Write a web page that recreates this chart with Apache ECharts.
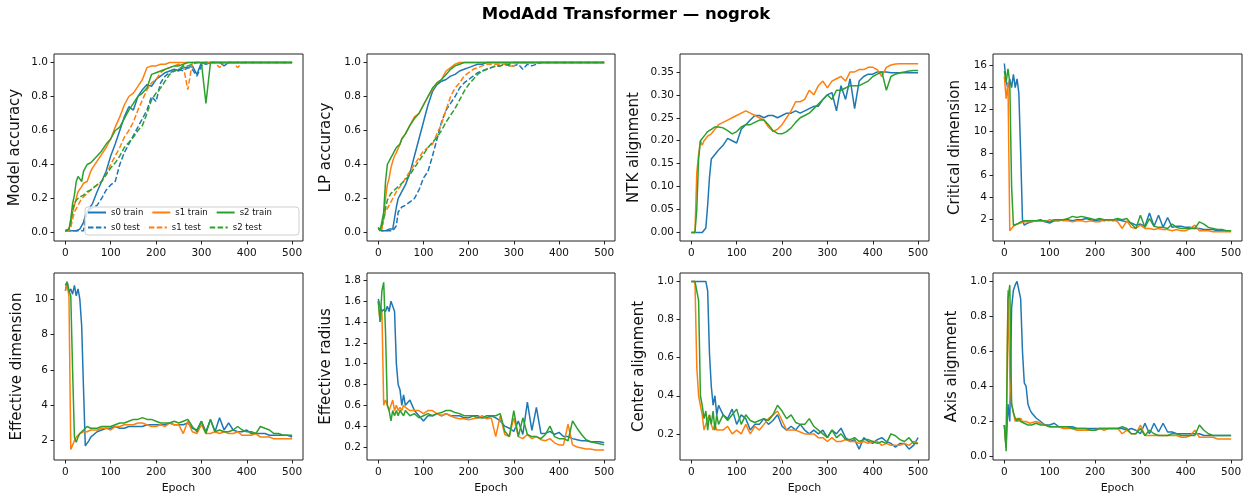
<!DOCTYPE html>
<html><head><meta charset="utf-8">
<script src="https://cdn.jsdelivr.net/npm/echarts@6/dist/echarts.min.js"></script>
<style>html,body{margin:0;padding:0;background:#fff}#c{width:1252px;height:500px}</style>
</head><body><div id="c"></div>
<script>
// ---------------- DATA ----------------
const epochs = [0,4,8,12,16,20,24,28,32,36,40,44,48,52,56,60,
  70,80,90,100,110,120,130,140,150,160,170,180,190,200,
  210,220,230,240,250,260,270,280,290,300,310,320,330,340,350,
  360,370,380,390,400,410,420,430,440,450,460,470,480,490,500];
const xTicks = [0,100,200,300,400,500];

const seriesNames = ['s0 train','s1 train','s2 train','s0 test','s1 test','s2 test'];
const panelTitles = ['Model accuracy','LP accuracy','NTK alignment','Critical dimension',
  'Effective dimension','Effective radius','Center alignment','Axis alignment'];

const yTicksModelAcc = [0,0.2,0.4,0.6,0.8,1.0];
const yTicksLpAcc = [0,0.2,0.4,0.6,0.8,1.0];
const yTicksNtk = [0,0.05,0.10,0.15,0.20,0.25,0.30,0.35];
const yTicksCrit = [2,4,6,8,10,12,14,16];
const yTicksEffDim = [2,4,6,8,10];
const yTicksEffRad = [0.2,0.4,0.6,0.8,1.0,1.2,1.4,1.6,1.8];
const yTicksCenter = [0.2,0.4,0.6,0.8,1.0];
const yTicksAxis = [0,0.2,0.4,0.6,0.8,1.0];

// Model accuracy
const modelAccS0Train = [0.01,0.01,0.01,0.01,0.01,0.01,0.01,0.02,0.02,0.03,0.06,0.10,0.12,0.14,0.15,0.17,
  0.24,0.30,0.36,0.45,0.52,0.60,0.68,0.74,0.72,0.80,0.84,0.87,0.86,0.90,
  0.92,0.94,0.95,0.96,0.95,0.97,0.97,0.98,0.93,1.0,0.99,1.0,1.0,1.0,0.98,
  1.0,1.0,1.0,1.0,1.0,1.0,1.0,1.0,1.0,1.0,1.0,1.0,1.0,1.0,1.0];
const modelAccS0Test = [0.01,0.01,0.01,0.01,0.01,0.01,0.01,0.01,0.01,0.01,0.01,0.08,0.12,0.13,0.14,0.15,
  0.16,0.20,0.25,0.28,0.30,0.40,0.47,0.52,0.57,0.62,0.67,0.72,0.80,0.77,
  0.88,0.92,0.94,0.95,0.96,0.95,0.97,0.96,0.92,0.98,1.0,1.0,1.0,1.0,1.0,
  1.0,1.0,1.0,1.0,1.0,1.0,1.0,1.0,1.0,1.0,1.0,1.0,1.0,1.0,1.0];
const modelAccS1Train = [0.01,0.01,0.02,0.05,0.12,0.16,0.20,0.24,0.25,0.27,0.29,0.30,0.30,0.33,0.36,0.38,
  0.42,0.46,0.50,0.55,0.62,0.68,0.75,0.80,0.82,0.86,0.90,0.97,0.98,0.98,
  0.99,0.99,1.0,1.0,1.0,1.0,1.0,1.0,1.0,1.0,1.0,1.0,1.0,1.0,1.0,
  1.0,1.0,1.0,1.0,1.0,1.0,1.0,1.0,1.0,1.0,1.0,1.0,1.0,1.0,1.0];
const modelAccS1Test = [0.01,0.01,0.01,0.03,0.08,0.12,0.14,0.16,0.18,0.20,0.21,0.22,0.22,0.24,0.25,0.26,
  0.28,0.30,0.34,0.40,0.45,0.50,0.56,0.60,0.65,0.72,0.78,0.84,0.88,0.90,
  0.94,0.96,0.97,0.98,0.99,0.98,0.84,1.0,1.0,1.0,1.0,1.0,1.0,0.97,1.0,
  1.0,1.0,0.97,1.0,1.0,1.0,1.0,1.0,1.0,1.0,1.0,1.0,1.0,1.0,1.0];
const modelAccS2Train = [0.01,0.01,0.02,0.08,0.17,0.22,0.30,0.33,0.33,0.30,0.36,0.38,0.40,0.40,0.41,0.42,
  0.45,0.48,0.52,0.55,0.60,0.62,0.67,0.72,0.76,0.80,0.82,0.85,0.93,0.94,
  0.95,0.96,0.97,0.98,0.98,0.99,1.0,1.0,1.0,1.0,0.76,1.0,1.0,1.0,1.0,
  1.0,1.0,1.0,1.0,1.0,1.0,1.0,1.0,1.0,1.0,1.0,1.0,1.0,1.0,1.0];
const modelAccS2Test = [0.01,0.01,0.02,0.06,0.13,0.17,0.19,0.20,0.21,0.22,0.22,0.23,0.24,0.25,0.25,0.26,
  0.28,0.30,0.34,0.38,0.41,0.45,0.50,0.53,0.56,0.60,0.63,0.70,0.78,0.82,
  0.85,0.89,0.93,0.95,0.96,0.98,0.98,0.99,1.0,1.0,1.0,1.0,1.0,1.0,1.0,
  1.0,1.0,1.0,1.0,1.0,1.0,1.0,1.0,1.0,1.0,1.0,1.0,1.0,1.0,1.0];

// LP accuracy
const lpAccS0Train = [0.02,0.01,0.01,0.01,0.01,0.01,0.02,0.01,0.02,0.02,0.15,0.20,0.22,0.24,0.25,0.28,
  0.35,0.45,0.55,0.65,0.75,0.83,0.87,0.89,0.90,0.92,0.93,0.95,0.96,0.97,
  0.98,0.99,0.99,1.0,1.0,1.0,1.0,1.0,1.0,1.0,1.0,1.0,1.0,1.0,1.0,
  1.0,1.0,1.0,1.0,1.0,1.0,1.0,1.0,1.0,1.0,1.0,1.0,1.0,1.0,1.0];
const lpAccS0Test = [0.02,0.01,0.01,0.01,0.01,0.01,0.01,0.01,0.01,0.02,0.04,0.12,0.13,0.15,0.15,0.16,
  0.18,0.20,0.25,0.32,0.36,0.45,0.55,0.65,0.72,0.76,0.80,0.85,0.88,0.90,
  0.92,0.94,0.95,0.96,0.97,0.98,0.98,0.99,0.98,0.98,0.99,0.96,0.99,0.98,0.99,
  1.0,1.0,1.0,1.0,1.0,1.0,1.0,1.0,1.0,1.0,1.0,1.0,1.0,1.0,1.0];
const lpAccS1Train = [0.02,0.01,0.02,0.10,0.20,0.28,0.32,0.38,0.42,0.45,0.47,0.48,0.52,0.55,0.56,0.58,
  0.63,0.68,0.70,0.75,0.80,0.84,0.88,0.90,0.95,0.97,0.99,1.0,1.0,1.0,
  1.0,1.0,1.0,1.0,1.0,1.0,1.0,1.0,1.0,1.0,1.0,1.0,1.0,1.0,1.0,
  1.0,1.0,1.0,1.0,1.0,1.0,1.0,1.0,1.0,1.0,1.0,1.0,1.0,1.0,1.0];
const lpAccS1Test = [0.02,0.01,0.02,0.08,0.12,0.14,0.16,0.18,0.20,0.22,0.24,0.25,0.27,0.28,0.30,0.32,
  0.36,0.40,0.44,0.48,0.50,0.52,0.58,0.64,0.72,0.80,0.85,0.88,0.92,0.94,
  0.96,0.97,0.98,0.99,0.99,0.99,0.99,0.99,0.98,0.98,1.0,1.0,1.0,1.0,1.0,
  1.0,1.0,1.0,1.0,1.0,1.0,1.0,1.0,1.0,1.0,1.0,1.0,1.0,1.0,1.0];
const lpAccS2Train = [0.03,0.01,0.02,0.12,0.30,0.40,0.42,0.44,0.46,0.48,0.50,0.50,0.52,0.55,0.56,0.58,
  0.63,0.67,0.70,0.75,0.80,0.85,0.88,0.90,0.93,0.96,0.98,0.99,1.0,1.0,
  1.0,1.0,1.0,1.0,1.0,1.0,1.0,1.0,1.0,1.0,1.0,1.0,1.0,1.0,1.0,
  1.0,1.0,1.0,1.0,1.0,1.0,1.0,1.0,1.0,1.0,1.0,1.0,1.0,1.0,1.0];
const lpAccS2Test = [0.03,0.01,0.02,0.08,0.14,0.19,0.21,0.23,0.24,0.25,0.26,0.27,0.28,0.29,0.30,0.31,
  0.34,0.38,0.42,0.46,0.50,0.53,0.56,0.60,0.65,0.69,0.73,0.78,0.83,0.87,
  0.90,0.93,0.95,0.96,0.97,0.98,0.98,0.99,0.99,1.0,1.0,1.0,1.0,1.0,1.0,
  1.0,1.0,1.0,1.0,1.0,1.0,1.0,1.0,1.0,1.0,1.0,1.0,1.0,1.0,1.0];

// NTK alignment
const ntkS0 = [0,0,0,0,0,0,0,0,0.01,0.06,0.12,0.16,0.165,0.17,0.175,0.18,
  0.19,0.205,0.20,0.195,0.225,0.235,0.245,0.255,0.255,0.25,0.255,0.255,0.25,0.255,
  0.26,0.26,0.265,0.26,0.265,0.27,0.275,0.275,0.29,0.30,0.305,0.265,0.32,0.29,0.335,
  0.27,0.33,0.34,0.345,0.345,0.35,0.35,0.35,0.348,0.348,0.348,0.348,0.348,0.348,0.348];
const ntkS1 = [0,0,0,0.13,0.17,0.20,0.19,0.20,0.205,0.21,0.21,0.215,0.22,0.225,0.23,0.235,
  0.24,0.245,0.25,0.255,0.26,0.265,0.26,0.255,0.25,0.245,0.23,0.22,0.225,0.235,
  0.25,0.265,0.285,0.285,0.29,0.31,0.30,0.32,0.33,0.315,0.33,0.335,0.34,0.33,0.35,
  0.35,0.355,0.355,0.36,0.36,0.355,0.34,0.36,0.365,0.367,0.368,0.368,0.368,0.368,0.368];
const ntkS2 = [0,0,0,0.05,0.16,0.20,0.205,0.21,0.215,0.22,0.22,0.225,0.228,0.23,0.23,0.23,
  0.228,0.222,0.215,0.22,0.23,0.235,0.235,0.24,0.245,0.245,0.235,0.222,0.216,0.215,
  0.22,0.228,0.24,0.25,0.255,0.26,0.27,0.28,0.29,0.30,0.29,0.31,0.31,0.315,0.32,
  0.32,0.32,0.325,0.33,0.34,0.345,0.35,0.31,0.34,0.345,0.348,0.35,0.352,0.353,0.353];

// Critical dimension
const critS0 = [16.2,14.5,14,14.8,14,15.2,14,14.8,13.5,8,2,1.5,1.6,1.7,1.8,1.8,
  1.9,2.0,1.8,1.7,1.9,1.9,2.0,2.0,1.9,2.0,2.0,2.1,2.0,1.9,
  2.0,1.9,2.0,1.9,2.0,1.9,1.8,1.7,1.5,1.6,1.4,2.6,1.4,2.4,1.3,
  2.2,1.3,1.4,1.4,1.3,1.3,1.2,1.2,1.1,1.1,1.1,1.0,1.0,1.0,1.0];
const critS1 = [15,13,14.5,1.0,1.2,1.4,1.5,1.6,1.6,1.7,1.8,1.8,1.8,1.8,1.8,1.8,
  1.9,1.9,1.8,2.0,1.9,2.0,1.9,1.9,1.8,1.9,1.9,1.8,1.9,1.8,
  1.8,2.0,1.9,2.0,1.8,1.2,1.9,1.3,1.2,1.5,1.2,1.2,1.1,1.2,1.1,
  1.1,1.0,1.1,1.0,1.0,1.2,1.5,1.0,1.0,1.0,0.9,0.9,0.9,0.9,0.9];
const critS2 = [15.5,14.5,15.7,14.5,5,1.5,1.5,1.6,1.7,1.8,1.8,1.9,1.9,1.9,1.9,1.9,
  1.9,1.9,1.9,1.8,2.0,2.0,2.0,2.1,2.3,2.2,2.3,2.2,2.1,2.0,
  2.1,2.0,2.0,2.0,2.1,2.0,2.1,1.6,1.2,2.4,1.3,2.1,1.4,1.3,1.3,
  1.2,1.6,1.3,1.2,1.2,1.2,1.2,1.8,1.6,1.3,1.2,1.1,1.1,1.0,1.0];

// Effective dimension
const effDimS0 = [10.5,11,10.4,10.6,10.3,10.8,10.2,10.6,10,8.5,5,1.7,1.6,2.0,2.2,2.3,
  2.5,2.6,2.7,2.7,2.8,2.7,2.7,2.8,2.8,2.8,2.8,2.9,2.9,2.9,
  2.9,2.9,3.0,2.9,2.9,2.9,3.0,2.7,2.6,3.1,2.5,3.2,2.5,3.3,2.6,
  3.0,2.6,2.5,2.5,2.6,2.4,2.4,2.4,2.4,2.3,2.3,2.3,2.3,2.3,2.2];
const effDimS1 = [10.5,10.8,10.2,1.5,1.6,2.0,2.2,2.3,2.4,2.4,2.5,2.4,2.5,2.5,2.6,2.6,
  2.6,2.7,2.7,2.6,2.8,2.8,2.9,2.9,2.9,3.0,3.0,2.9,2.8,2.8,
  2.9,2.8,3.0,2.9,2.9,2.4,3.1,2.5,2.4,2.9,2.4,2.4,2.5,2.4,2.5,
  2.4,2.4,2.5,2.3,2.3,2.3,2.4,2.2,2.2,2.2,2.1,2.1,2.1,2.1,2.1];
const effDimS2 = [10.8,11,10.5,10.2,6,2.2,1.9,2.2,2.4,2.5,2.6,2.7,2.8,2.8,2.7,2.8,
  2.7,2.8,2.8,2.8,2.9,3.0,3.0,3.1,3.2,3.2,3.3,3.2,3.2,3.1,
  3.0,3.0,3.0,3.1,3.0,3.1,3.2,2.8,2.5,3.1,2.4,3.2,2.5,2.6,2.5,
  2.5,2.6,2.8,2.6,2.5,2.5,2.4,2.8,2.7,2.6,2.4,2.4,2.3,2.3,2.3];

// Effective radius
const effRadS0 = [1.62,1.55,1.5,1.52,1.5,1.55,1.5,1.6,1.6,1.5,1.0,0.8,0.75,0.6,0.7,0.6,
  0.65,0.55,0.5,0.45,0.5,0.5,0.52,0.5,0.52,0.5,0.5,0.5,0.48,0.48,
  0.5,0.5,0.48,0.48,0.5,0.48,0.45,0.4,0.38,0.35,0.45,0.32,0.63,0.36,0.58,
  0.33,0.33,0.35,0.32,0.34,0.3,0.3,0.28,0.27,0.26,0.26,0.25,0.25,0.25,0.24];
const effRadS1 = [1.6,1.4,1.5,0.6,0.65,0.6,0.55,0.6,0.65,0.55,0.6,0.55,0.58,0.55,0.6,0.58,
  0.55,0.55,0.55,0.52,0.55,0.55,0.52,0.5,0.52,0.5,0.48,0.47,0.47,0.46,
  0.47,0.48,0.5,0.47,0.48,0.3,0.5,0.32,0.3,0.48,0.3,0.28,0.32,0.28,0.3,
  0.27,0.26,0.28,0.24,0.22,0.22,0.42,0.22,0.2,0.19,0.18,0.18,0.17,0.17,0.17];
const effRadS2 = [1.6,1.4,1.7,1.78,1.3,0.6,0.55,0.45,0.55,0.5,0.55,0.5,0.55,0.55,0.5,0.55,
  0.5,0.52,0.48,0.5,0.52,0.5,0.52,0.53,0.55,0.55,0.53,0.52,0.5,0.5,
  0.5,0.48,0.48,0.5,0.5,0.5,0.52,0.35,0.3,0.55,0.3,0.48,0.32,0.3,0.3,
  0.28,0.32,0.4,0.3,0.28,0.28,0.26,0.45,0.38,0.32,0.27,0.25,0.24,0.23,0.22];

// Center alignment
const centerS0 = [1,1,1,1,1,1,1,1,1,0.95,0.62,0.45,0.35,0.4,0.3,0.35,
  0.3,0.28,0.33,0.25,0.3,0.28,0.22,0.25,0.25,0.28,0.25,0.27,0.3,0.24,
  0.22,0.24,0.22,0.25,0.22,0.2,0.22,0.2,0.22,0.18,0.22,0.2,0.23,0.18,0.16,
  0.17,0.12,0.18,0.16,0.15,0.17,0.18,0.16,0.15,0.13,0.15,0.15,0.12,0.14,0.18];
const centerS1 = [1,1,1,0.55,0.4,0.35,0.3,0.22,0.25,0.28,0.3,0.25,0.22,0.25,0.22,0.22,
  0.22,0.24,0.2,0.22,0.2,0.25,0.2,0.24,0.22,0.25,0.28,0.3,0.32,0.27,
  0.22,0.22,0.22,0.21,0.2,0.2,0.2,0.18,0.18,0.16,0.18,0.16,0.16,0.17,0.16,
  0.16,0.15,0.16,0.15,0.16,0.16,0.14,0.15,0.14,0.14,0.14,0.15,0.14,0.16,0.15];
const centerS2 = [1,1,1,1,0.9,0.4,0.35,0.28,0.32,0.22,0.3,0.25,0.32,0.22,0.3,0.25,
  0.3,0.27,0.3,0.33,0.25,0.3,0.27,0.26,0.27,0.28,0.27,0.3,0.35,0.32,
  0.28,0.3,0.26,0.25,0.25,0.28,0.24,0.22,0.2,0.18,0.22,0.18,0.2,0.17,0.17,
  0.18,0.16,0.17,0.17,0.16,0.15,0.16,0.15,0.2,0.19,0.17,0.16,0.18,0.15,0.15];

// Axis alignment
const axisS0 = [0.18,0.05,0.3,0.2,0.85,0.95,0.98,1.0,1.0,0.9,0.6,0.42,0.4,0.3,0.27,0.25,
  0.22,0.2,0.18,0.18,0.19,0.17,0.17,0.17,0.17,0.16,0.16,0.16,0.16,0.16,
  0.16,0.16,0.16,0.16,0.16,0.16,0.15,0.16,0.15,0.13,0.19,0.13,0.19,0.14,0.19,
  0.14,0.14,0.13,0.13,0.13,0.13,0.13,0.13,0.12,0.12,0.12,0.12,0.12,0.12,0.12];
const axisS1 = [0.18,0.05,0.95,0.45,0.3,0.25,0.2,0.22,0.2,0.22,0.2,0.2,0.2,0.19,0.19,0.19,
  0.2,0.19,0.18,0.17,0.17,0.17,0.16,0.16,0.16,0.15,0.15,0.15,0.15,0.15,
  0.16,0.15,0.16,0.16,0.16,0.13,0.15,0.13,0.13,0.18,0.12,0.12,0.12,0.12,0.12,
  0.12,0.12,0.12,0.11,0.11,0.12,0.15,0.11,0.11,0.11,0.11,0.1,0.1,0.1,0.1];
const axisS2 = [0.18,0.03,0.9,0.98,0.3,0.25,0.22,0.2,0.22,0.2,0.2,0.19,0.19,0.18,0.18,0.18,
  0.19,0.18,0.18,0.17,0.17,0.17,0.17,0.17,0.16,0.16,0.16,0.16,0.15,0.15,
  0.16,0.16,0.16,0.16,0.16,0.17,0.16,0.13,0.13,0.16,0.12,0.15,0.13,0.12,0.12,
  0.12,0.13,0.13,0.12,0.12,0.12,0.12,0.18,0.15,0.13,0.12,0.12,0.12,0.12,0.12];

// ---------------- LAYOUT / STYLE ----------------
const COLORS = ['#1f77b4','#ff7f0e','#2ca02c'];
const FONT = 'DejaVu Sans';
const colLeft = [54, 367, 680, 993];
const colWidth = [249, 248, 249, 249];
const rowTop = [54, 273];
const plotH = 187;
const nameGaps = [31, 33, 38, 30, 29, 33, 33, 33];

const panels = [
  {ticks: yTicksModelAcc, min: -0.05, max: 1.05, dec: 1,
   lines: [[modelAccS0Train,0,false,0],[modelAccS0Test,0,true,3],[modelAccS1Train,1,false,1],[modelAccS1Test,1,true,4],[modelAccS2Train,2,false,2],[modelAccS2Test,2,true,5]]},
  {ticks: yTicksLpAcc, min: -0.05, max: 1.05, dec: 1,
   lines: [[lpAccS0Train,0,false,0],[lpAccS0Test,0,true,3],[lpAccS1Train,1,false,1],[lpAccS1Test,1,true,4],[lpAccS2Train,2,false,2],[lpAccS2Test,2,true,5]]},
  {ticks: yTicksNtk, min: -0.0185, max: 0.389, dec: 2, lines: [[ntkS0,0],[ntkS1,1],[ntkS2,2]]},
  {ticks: yTicksCrit, min: 0.06, max: 17.06, dec: 0, lines: [[critS0,0],[critS1,1],[critS2,2]]},
  {ticks: yTicksEffDim, min: 0.9, max: 11.5, dec: 0, lines: [[effDimS0,0],[effDimS1,1],[effDimS2,2]]},
  {ticks: yTicksEffRad, min: 0.075, max: 1.87, dec: 1, lines: [[effRadS0,0],[effRadS1,1],[effRadS2,2]]},
  {ticks: yTicksCenter, min: 0.063, max: 1.044, dec: 1, lines: [[centerS0,0],[centerS1,1],[centerS2,2]]},
  {ticks: yTicksAxis, min: -0.02, max: 1.048, dec: 1, lines: [[axisS0,0],[axisS1,1],[axisS2,2]]}
];

const grids = [], xAxes = [], yAxes = [], series = [];
panels.forEach((p, i) => {
  const c = i % 4, r = Math.floor(i / 4);
  grids.push({left: colLeft[c], top: rowTop[r], width: colWidth[c], height: plotH,
    show: true, borderColor: '#222', borderWidth: 1, backgroundColor: 'transparent',
    containLabel: false, outerBoundsMode: 'none'});
  xAxes.push({gridIndex: i, type: 'value', min: -25, max: 524, position: 'bottom',
    axisLine: {show: false, onZero: false},
    axisTick: {show: true, customValues: xTicks, length: 3.5, lineStyle: {color: '#222', width: 1}},
    axisLabel: {customValues: xTicks, fontSize: 10.5, color: '#111', margin: 7, fontFamily: FONT},
    splitLine: {show: false},
    name: r === 1 ? 'Epoch' : '', nameLocation: 'middle', nameGap: 23,
    nameTextStyle: {fontSize: 11, color: '#111', fontFamily: FONT}});
  yAxes.push({gridIndex: i, type: 'value', min: p.min, max: p.max, position: 'left',
    axisLine: {show: false, onZero: false},
    axisTick: {show: true, customValues: p.ticks, length: 3.5, lineStyle: {color: '#222', width: 1}},
    axisLabel: {customValues: p.ticks, fontSize: 10.5, color: '#111', margin: 6, fontFamily: FONT,
      formatter: v => Number(v).toFixed(p.dec)},
    splitLine: {show: false},
    name: panelTitles[i], nameLocation: 'middle', nameRotate: 90, nameGap: nameGaps[i],
    nameTextStyle: {fontSize: 15, color: '#111', fontFamily: FONT}});
  p.lines.forEach(l => {
    const arr = l[0], ci = l[1], dashed = !!l[2];
    series.push({
      type: 'line', name: l[3] !== undefined ? seriesNames[l[3]] : ('s' + ci),
      xAxisIndex: i, yAxisIndex: i, showSymbol: false, symbol: 'none',
      data: epochs.map((e, k) => [e, arr[k]]),
      lineStyle: {color: COLORS[ci], width: 1.5, type: dashed ? [5.5, 2.4] : 'solid'},
      itemStyle: {color: COLORS[ci]},
      emphasis: {disabled: true}, silent: true, z: 2
    });
  });
});

const legendCommon = {left: 87, itemWidth: 18, itemHeight: 8, itemGap: 8, padding: 0,
  itemStyle: {opacity: 0, borderWidth: 0},
  textStyle: {fontSize: 8.5, color: '#111', fontFamily: FONT, width: 41}, z: 4,
  selectedMode: false};

const option = {
  backgroundColor: '#fff',
  animation: false,
  title: {text: 'ModAdd Transformer — nogrok', left: 'center', top: 6, padding: 0,
    textStyle: {fontSize: 16.5, fontWeight: 'bold', color: '#000', fontFamily: FONT}},
  grid: grids, xAxis: xAxes, yAxis: yAxes, series: series,
  legend: [
    Object.assign({}, legendCommon, {top: 208, data: seriesNames.slice(0, 3)}),
    Object.assign({}, legendCommon, {top: 223, data: seriesNames.slice(3, 6)})
  ],
  graphic: [{type: 'rect', z: 3, shape: {x: 85, y: 207, width: 214, height: 28, r: 3},
    style: {fill: 'rgba(255,255,255,0.8)', stroke: '#cfcfcf', lineWidth: 1}}]
};

const chart = echarts.init(document.getElementById('c'), null, {renderer: 'canvas'});
chart.setOption(option);
</script>
</body></html>
